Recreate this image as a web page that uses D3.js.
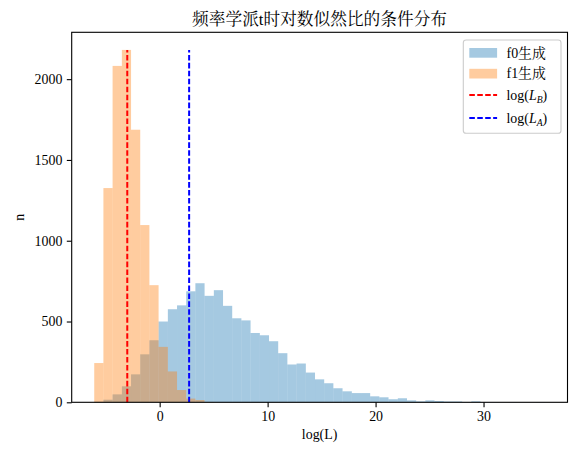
<!DOCTYPE html>
<html>
<head>
<meta charset="utf-8">
<script src="https://cdn.jsdelivr.net/npm/d3@7"></script>
<style>
  body { margin: 0; background: #fff; }
  svg text { font-family: "Liberation Serif", "Noto Serif CJK SC", "Noto Sans CJK SC", serif; fill: #000; }
</style>
</head>
<body>
<div class="holder"></div>
<script>
// shared bin edges of both histograms
var binEdges = [-6.06, -5.21, -4.36, -3.50, -2.65, -1.80, -0.95, -0.10, 0.76, 1.61,
  2.46, 3.31, 4.16, 5.02, 5.87, 6.72, 7.57, 8.42, 9.28, 10.13,
  10.98, 11.83, 12.68, 13.54, 14.39, 15.24, 16.09, 16.94, 17.80, 18.65,
  19.50, 20.35, 21.20, 22.06, 22.91, 23.76, 24.61, 25.46, 26.32, 27.17,
  28.02, 28.87, 29.72, 30.58, 31.43, 32.28, 33.13, 33.98, 34.84, 35.69]

var f0Counts = [3, 16, 49, 99, 173, 297, 384, 500, 576, 600,
  687, 737, 659, 694, 597, 520, 507, 429, 415, 378,
  304, 234, 240, 184, 142, 118, 87, 68, 57, 57,
  37, 31, 19, 25, 12, 6, 12, 8, 5, 5,
  2, 6, 1, 1, 0, 1, 0, 0, 1]

var f1Counts = [243, 1326, 2082, 2181, 1687, 1097, 725, 343, 191, 76,
  23, 14, 2, 0, 0, 0, 0, 0, 0, 0,
  0, 0, 0, 0, 0, 0, 0, 0, 0, 0,
  0, 0, 0, 0, 0, 0, 0, 0, 0, 0,
  0, 0, 0, 0, 0, 0, 0, 0, 0]

var logLB = -3.0
var logLA = 2.73

var xTicks = [0, 10, 20, 30]
var yTicks = [0, 500, 1000, 1500, 2000]

var W = 577, H = 457
var axL = 71.7, axR = 567.5, axT = 32.3, axB = 402.3

var svg = d3.select('.holder')
  .append('svg')
  .attr('width', W)
  .attr('height', H)

var lo = binEdges[0], hi = binEdges[binEdges.length - 1]
var pad = (hi - lo) * 0.05
var xScale = d3.scaleLinear()
  .domain([lo - pad, hi + pad])
  .range([axL, axR])

var maxN = d3.max(f0Counts.concat(f1Counts))
var yScale = d3.scaleLinear()
  .domain([0, maxN * 1.05])
  .range([axB, axT])

function bins(counts) {
  return counts.map(function(c, i) {
    return { x0: binEdges[i], x1: binEdges[i + 1], n: c }
  }).filter(function(d) { return d.n > 0 })
}

function drawHist(counts, color) {
  svg.append('g')
    .selectAll('rect')
    .data(bins(counts))
    .enter()
    .append('rect')
    .attr('x', function(d) { return xScale(d.x0) })
    .attr('width', function(d) { return xScale(d.x1) - xScale(d.x0) })
    .attr('y', function(d) { return yScale(d.n) })
    .attr('height', function(d) { return yScale(0) - yScale(d.n) })
    .attr('fill', color)
    .attr('fill-opacity', 0.4)
}

drawHist(f0Counts, '#1f77b4')
drawHist(f1Counts, '#ff7f0e')

var vlines = [{ x: logLB, color: '#ff0000' }, { x: logLA, color: '#0000ff' }]
svg.append('g')
  .selectAll('line')
  .data(vlines)
  .enter()
  .append('line')
  .attr('x1', function(d) { return xScale(d.x) })
  .attr('x2', function(d) { return xScale(d.x) })
  .attr('y1', yScale(0))
  .attr('y2', yScale(maxN))
  .attr('stroke', function(d) { return d.color })
  .attr('stroke-width', 2)
  .attr('stroke-dasharray', '5.55,2.4')

// axes
var xAxis = d3.axisBottom(xScale)
  .tickValues(xTicks)
  .tickSize(4.9)
  .tickPadding(4.4)
  .tickFormat(d3.format('d'))

var gx = svg.append('g')
  .attr('transform', 'translate(0,' + axB + ')')
  .call(xAxis)

var yAxis = d3.axisLeft(yScale)
  .tickValues(yTicks)
  .tickSize(4.9)
  .tickPadding(4.4)
  .tickFormat(d3.format('d'))

var gy = svg.append('g')
  .attr('transform', 'translate(' + axL + ',0)')
  .call(yAxis)

;[gx, gy].forEach(function(g) {
  g.select('.domain').remove()
  g.selectAll('.tick line').attr('stroke', '#000').attr('stroke-width', 1.1)
  g.selectAll('.tick text').style('font-size', '13.9px')
  g.attr('font-family', null).attr('font-size', null)
})

svg.append('rect')
  .attr('x', axL)
  .attr('y', axT)
  .attr('width', axR - axL)
  .attr('height', axB - axT)
  .attr('fill', 'none')
  .attr('stroke', '#000')
  .attr('stroke-width', 1.1)

// labels
svg.append('text')
  .attr('x', (axL + axR) / 2)
  .attr('y', 24.5)
  .attr('text-anchor', 'middle')
  .style('font-size', '16.7px')
  .text('频率学派t时对数似然比的条件分布')

svg.append('text')
  .attr('x', (axL + axR) / 2)
  .attr('y', 439)
  .attr('text-anchor', 'middle')
  .style('font-size', '13.9px')
  .text('log(L)')

svg.append('text')
  .attr('transform', 'translate(24,' + (axT + axB) / 2 + ') rotate(-90)')
  .attr('text-anchor', 'middle')
  .style('font-size', '13.9px')
  .text('n')

// legend
var legend = svg.append('g')

legend.append('rect')
  .attr('x', 463.3)
  .attr('y', 40)
  .attr('width', 97.7)
  .attr('height', 93.3)
  .attr('rx', 2.8)
  .attr('fill', '#fff')
  .attr('fill-opacity', 0.8)
  .attr('stroke', '#cccccc')
  .attr('stroke-width', 1.1)

var items = [
  { label: 'f0生成', type: 'patch', color: '#1f77b4', y: 52.8 },
  { label: 'f1生成', type: 'patch', color: '#ff7f0e', y: 73.6 },
  { label: 'B', type: 'line', color: '#ff0000', y: 95 },
  { label: 'A', type: 'line', color: '#0000ff', y: 118 }
]

items.forEach(function(d) {
  if (d.type === 'patch') {
    legend.append('rect')
      .attr('x', 469.3)
      .attr('y', d.y - 4.8)
      .attr('width', 27.8)
      .attr('height', 9.7)
      .attr('fill', d.color)
      .attr('fill-opacity', 0.4)
    legend.append('text')
      .attr('x', 506.5)
      .attr('y', d.y + 4.8)
      .style('font-size', '13.9px')
      .text(d.label)
  } else {
    legend.append('line')
      .attr('x1', 469.3)
      .attr('x2', 497.1)
      .attr('y1', d.y)
      .attr('y2', d.y)
      .attr('stroke', d.color)
      .attr('stroke-width', 2)
      .attr('stroke-dasharray', '5.55,2.4')
    var t = legend.append('text')
      .attr('x', 506.5)
      .attr('y', d.y + 5.2)
      .style('font-size', '13.9px')
    t.append('tspan').text('log(')
    t.append('tspan').style('font-style', 'italic').text('L')
    t.append('tspan').attr('dy', 2.6).style('font-style', 'italic').style('font-size', '9.7px').text(d.label)
    t.append('tspan').attr('dy', -2.6).text(')')
  }
})
</script>
</body>
</html>
